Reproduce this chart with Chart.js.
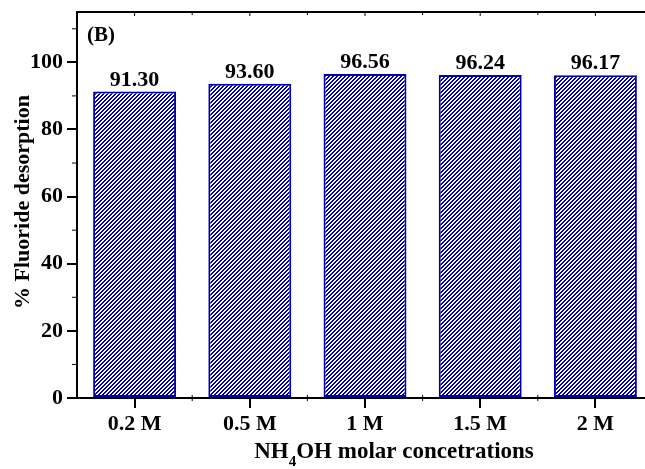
<!DOCTYPE html>
<html>
<head>
<meta charset="utf-8">
<script src="https://cdn.jsdelivr.net/npm/chart.js"></script>
<style>
  html, body { margin: 0; padding: 0; background: #fff; overflow: hidden; }
  #wrap { width: 645px; height: 469px; overflow: hidden; }
  #chart { display: block; }
</style>
</head>
<body>
<div id="wrap"><canvas id="chart" width="660" height="469"></canvas></div>
<script>
// data
const categories = ['0.2 M', '0.5 M', '1 M', '1.5 M', '2 M'];
const desorption = [91.30, 93.60, 96.56, 96.24, 96.17];
const yTicks = [0, 20, 40, 60, 80, 100];

const FONT = '"Liberation Serif", "Times New Roman", serif';
const BLUE = '#0000a8';

// diagonal hatch pattern, pixel exact "/" stripes
function makeHatch() {
    const p = 4;
    const c = document.createElement('canvas');
    c.width = p; c.height = p;
    const g = c.getContext('2d');
    g.fillStyle = '#fff';
    g.fillRect(0, 0, p, p);
    g.fillStyle = BLUE;
    for (let x = 0; x < p; x++) {
        for (let y = 0; y < p; y++) {
            if ((x + y) % 4 < 2) g.fillRect(x, y, 1, 1);
        }
    }
    return document.getElementById('chart').getContext('2d').createPattern(c, 'repeat');
}

const extras = {
    id: 'extras',
    afterDatasetsDraw(chart) {
        const ctx = chart.ctx;
        const area = chart.chartArea;
        const xs = chart.scales.x;
        const ys = chart.scales.y;
        ctx.save();

        // value labels
        ctx.fillStyle = '#000';
        ctx.font = 'bold 22px ' + FONT;
        ctx.textAlign = 'center';
        ctx.textBaseline = 'alphabetic';
        chart.getDatasetMeta(0).data.forEach((bar, i) => {
            ctx.fillText(desorption[i].toFixed(2), bar.x, bar.y - 6);
        });

        // top frame line with small inward ticks
        ctx.strokeStyle = '#000';
        ctx.lineWidth = 2;
        ctx.beginPath();
        ctx.moveTo(area.left - 1, area.top);
        ctx.lineTo(area.right, area.top);
        ctx.stroke();
        ctx.lineWidth = 1;
        ctx.beginPath();
        const step = xs.getPixelForValue(1) - xs.getPixelForValue(0);
        categories.forEach((c, i) => {
            const x = xs.getPixelForValue(i);
            ctx.moveTo(x, area.top); ctx.lineTo(x, area.top + 4);
            const m = x + step / 2;
            ctx.moveTo(m, area.top); ctx.lineTo(m, area.top + 3);
            // bottom minor ticks
            ctx.moveTo(m, area.bottom - 3); ctx.lineTo(m, area.bottom + 3);
        });
        // left minor ticks
        for (let v = 10; v < 115; v += 20) {
            const y = ys.getPixelForValue(v);
            ctx.moveTo(area.left - 5, y); ctx.lineTo(area.left, y);
        }
        ctx.stroke();

        // panel tag
        ctx.font = 'bold 21px ' + FONT;
        ctx.textAlign = 'left';
        ctx.textBaseline = 'middle';
        ctx.fillText('(B)', 87, 36);

        // y title
        ctx.save();
        ctx.translate(23, 202);
        ctx.rotate(-Math.PI / 2);
        ctx.textAlign = 'center';
        ctx.font = 'bold 22px ' + FONT;
        ctx.fillText('% Fluoride desorption', 0, 0);
        ctx.restore();

        // x title with subscript
        ctx.textBaseline = 'alphabetic';
        ctx.font = 'bold 23px ' + FONT;
        const a = 'NH', sub = '4', b = 'OH molar concetrations';
        const wa = ctx.measureText(a).width;
        const wb = ctx.measureText(b).width;
        ctx.font = 'bold 15px ' + FONT;
        const ws = ctx.measureText(sub).width;
        const total = wa + ws + wb;
        let x0 = 394 - total / 2;
        const base = 458;
        ctx.font = 'bold 23px ' + FONT;
        ctx.fillText(a, x0, base);
        ctx.font = 'bold 15px ' + FONT;
        ctx.fillText(sub, x0 + wa, base + 8);
        ctx.font = 'bold 23px ' + FONT;
        ctx.fillText(b, x0 + wa + ws, base);
        ctx.restore();
    }
};

new Chart(document.getElementById('chart'), {
    type: 'bar',
    data: {
        labels: categories,
        datasets: [{
            data: desorption,
            backgroundColor: makeHatch(),
            borderColor: BLUE,
            borderWidth: 2,
            borderSkipped: false,
            barPercentage: 0.72,
            categoryPercentage: 1.0
        }]
    },
    options: {
        responsive: false,
        animation: false,
        layout: { padding: { top: 12, right: 7, left: 0, bottom: 0 } },
        plugins: { legend: { display: false }, tooltip: { enabled: false } },
        scales: {
            x: {
                grid: { display: true, drawOnChartArea: false, drawTicks: true, tickLength: 10, color: '#000', lineWidth: 2, offset: false },
                border: { display: true, color: '#000', width: 2 },
                ticks: { color: '#000', font: { family: FONT, size: 22, weight: 'bold' }, padding: 3, maxRotation: 0 },
                afterFit(s) { s.height = 71; s.paddingLeft = 0; s.paddingRight = 0; }
            },
            y: {
                min: 0, max: 115,
                afterBuildTicks(s) { s.ticks = yTicks.map(v => ({ value: v })); },
                grid: { display: true, drawOnChartArea: false, drawTicks: true, tickLength: 10, color: '#000', lineWidth: 2 },
                border: { display: true, color: '#000', width: 2 },
                ticks: { color: '#000', font: { family: FONT, size: 22, weight: 'bold' }, padding: 4 },
                afterFit(s) { s.width = 77; s.paddingTop = 0; s.paddingBottom = 0; }
            }
        }
    },
    plugins: [extras]
});
</script>
</body>
</html>
